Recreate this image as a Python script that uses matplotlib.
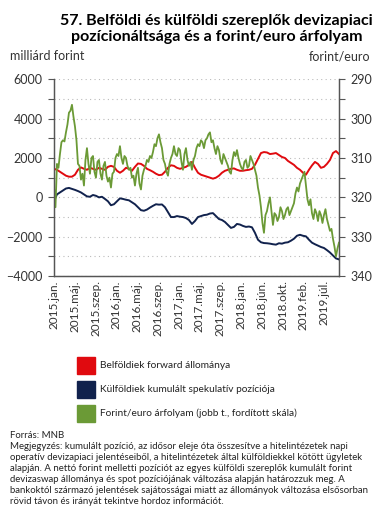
import numpy as np
import matplotlib
matplotlib.use("Agg")
import matplotlib.pyplot as plt
from matplotlib.patches import Rectangle

plt.rcParams['font.family'] = ['Lato', 'DejaVu Sans']

# Belföldiek forward állománya (milliárd forint)
forward = [1450, 1400, 1300, 1200, 1100, 1050, 1050, 1150, 1400, 1520,
           1450, 1400, 1500, 1450, 1400, 1500, 1450, 1400, 1550, 1600,
           1550, 1350, 1250, 1350, 1500, 1450, 1350, 1550, 1720, 1700,
           1600, 1450, 1380, 1300, 1200, 1130, 1150, 1300, 1500, 1630,
           1600, 1500, 1450, 1500, 1550, 1650, 1800, 1500, 1250, 1150,
           1100, 1050, 1000, 950, 1000, 1100, 1250, 1350, 1400, 1450,
           1470, 1400, 1350, 1350, 1380, 1400, 1450, 1650, 1950, 2250,
           2300, 2280, 2200, 2220, 2250, 2150, 2050, 2000, 1850, 1750,
           1650, 1500, 1400, 1250, 1150, 1400, 1620, 1800, 1700, 1500,
           1550, 1700, 1900, 2250, 2350, 2200]

# Külföldiek kumulált spekulatív pozíciója (milliárd forint)
spekulativ = [-200, 150, 250, 350, 450, 480, 430, 380, 320, 250,
              150, 50, 30, 120, 80, 0, 30, -80, -200, -400,
              -350, -200, -50, -80, -120, -150, -250, -350, -500, -650,
              -680, -620, -520, -430, -350, -370, -360, -500, -750, -1000,
              -1000, -950, -980, -1000, -1050, -1150, -1350, -1200, -1000, -950,
              -900, -880, -820, -800, -950, -1100, -1150, -1250, -1400, -1550,
              -1500, -1350, -1380, -1450, -1500, -1480, -1520, -1800, -2150, -2280,
              -2320, -2330, -2350, -2380, -2400, -2330, -2350, -2300, -2280, -2200,
              -2100, -1950, -1900, -1950, -1980, -2150, -2300, -2380, -2450, -2520,
              -2570, -2680, -2800, -2950, -3100, -3150]

# Forint/euro árfolyam (félpontos sűrűséggel)
eur_huf = [317.3, 322.5, 311.5, 312.5, 309.0, 306.0, 305.5, 305.8, 303.5, 301.5,
           298.5, 298.0, 296.5, 299.5, 302.0, 305.5, 311.5, 312.0, 315.5, 314.0,
           317.0, 310.5, 307.5, 311.5, 314.0, 310.0, 309.5, 313.5, 315.0, 311.0,
           310.5, 314.0, 315.5, 312.0, 311.0, 314.5, 316.0, 315.0, 317.5, 314.0,
           313.5, 310.0, 309.0, 309.5, 307.0, 310.0, 311.5, 309.5, 310.0, 312.0,
           313.0, 312.5, 315.0, 314.5, 317.0, 314.0, 312.5, 316.5, 318.0, 314.5,
           313.0, 312.0, 310.5, 311.0, 309.5, 310.0, 308.5, 306.5, 307.0, 305.0,
           304.0, 306.0, 307.5, 310.5, 311.5, 313.5, 314.5, 311.5, 310.0, 309.0,
           307.0, 309.0, 309.5, 307.5, 308.0, 311.0, 313.0, 309.0, 307.5, 310.5,
           312.0, 311.0, 313.0, 310.5, 309.5, 307.5, 306.5, 307.0, 305.5, 306.0,
           307.5, 305.5, 305.0, 304.0, 303.5, 306.0, 305.5, 307.5, 309.0, 307.0,
           308.0, 310.5, 311.5, 309.0, 310.0, 311.0, 312.0, 313.5, 314.0, 310.5,
           308.5, 309.5, 308.0, 310.0, 311.5, 312.5, 313.0, 311.0, 310.5, 312.5,
           312.0, 309.5, 310.5, 311.5, 313.0, 314.5, 317.5, 319.5, 322.5, 326.5,
           329.0, 324.5, 323.5, 321.5, 320.0, 323.5, 327.0, 324.0, 324.5, 326.0,
           325.0, 322.5, 323.5, 325.5, 324.5, 323.0, 322.5, 324.5, 323.5, 322.5,
           321.5, 319.0, 317.5, 318.5, 316.5, 315.5, 314.5, 313.5, 317.0, 320.5,
           322.0, 320.5, 324.0, 325.5, 323.0, 324.0, 326.0, 323.5, 324.5, 326.5,
           324.5, 323.0, 325.5, 327.0, 328.5, 328.0, 330.5, 332.5, 335.0, 333.0,
           331.5]

tick_labels = ['2015.jan.', '2015.máj.', '2015.szep.', '2016.jan.', '2016.máj.',
               '2016.szep.', '2017.jan.', '2017.máj.', '2017.szep.', '2018.jan.',
               '2018.jún.', '2018.okt.', '2019.feb.', '2019.júl.']

red = '#e00a0f'
navy = '#11224d'
green = '#6b9a36'
txt = '#333333'

x = np.arange(len(forward))
xg = np.arange(len(eur_huf)) * 0.5

fig = plt.figure(figsize=(3.8, 5.28), dpi=100)
ax = fig.add_axes([0.142, 0.477, 0.750, 0.373])
ax2 = ax.twinx()

ax.plot(x, forward, color=red, lw=1.4, zorder=3)
ax.plot(x, spekulativ, color=navy, lw=1.4, zorder=3)
ax2.plot(xg, eur_huf, color=green, lw=1.3, zorder=2)

ax.set_xlim(0, len(forward) - 1)
ax.set_ylim(-4000, 6000)
ax2.set_ylim(340, 290)
ax.set_yticks(np.arange(-4000, 6001, 2000))
ax.set_yticks(np.arange(-4000, 6001, 1000), minor=True)
ax2.set_yticks(np.arange(290, 341, 10))
ax2.set_yticks(np.arange(290, 341, 5), minor=True)
ax.yaxis.grid(True, which='both', color='#bbbbbb', ls=(0, (1, 3)), lw=0.8)
ax.set_axisbelow(True)

step = 6.93
ax.set_xticks([k * step for k in range(len(tick_labels))])
ax.set_xticklabels(tick_labels, rotation=90, fontsize=8.5, color=txt)
ax.tick_params(axis='x', length=0, pad=3)
ax.tick_params(axis='y', which='both', length=4, width=0.8, colors='#555555',
               labelsize=9, labelcolor=txt, pad=4)
ax2.tick_params(axis='y', which='both', length=4, width=0.8, colors='#555555',
                labelsize=9, labelcolor=txt, pad=4)

for a in (ax, ax2):
    a.spines['top'].set_visible(False)
    for s in ('left', 'right', 'bottom'):
        a.spines[s].set_color('#555555')
        a.spines[s].set_linewidth(0.9)

fig.text(0.57, 0.974, '57. Belföldi és külföldi szereplők devizapiaci\n'
         'pozícionáltsága és a forint/euro árfolyam',
         ha='center', va='top', fontsize=11.5, fontweight='bold', linespacing=1.2)
fig.text(0.026, 0.893, 'milliárd forint', fontsize=9, color=txt, va='center')
fig.text(0.974, 0.893, 'forint/euro', fontsize=9, color=txt, va='center', ha='right')

legend_items = [(red, 'Belföldiek forward állománya'),
                (navy, 'Külföldiek kumulált spekulatív pozíciója'),
                (green, 'Forint/euro árfolyam (jobb t., fordított skála)')]
for i, (c, lab) in enumerate(legend_items):
    yc = 1 - (365 + 24 * i) / 528
    fig.patches.append(Rectangle((77 / 380, yc - 8.5 / 528), 18 / 380, 17 / 528,
                                 transform=fig.transFigure, color=c))
    fig.text(100 / 380, yc, lab, fontsize=7.3, va='center', color='#222222')

note = ('Forrás: MNB\n'
        'Megjegyzés: kumulált pozíció, az idősor eleje óta összesítve a hitelintézetek napi\n'
        'operatív devizapiaci jelentéseiből, a hitelintézetek által külföldiekkel kötött ügyletek\n'
        'alapján. A nettó forint melletti pozíciót az egyes külföldi szereplők kumulált forint\n'
        'devizaswap állománya és spot pozíciójának változása alapján határozzuk meg. A\n'
        'bankoktól származó jelentések sajátosságai miatt az állományok változása elsősorban\n'
        'rövid távon és irányát tekintve hordoz információt.')
fig.text(0.026, 1 - 431 / 528, note, fontsize=6.9, va='top', color='#222222',
         linespacing=1.28)

fig.savefig('out.png', dpi=100)
